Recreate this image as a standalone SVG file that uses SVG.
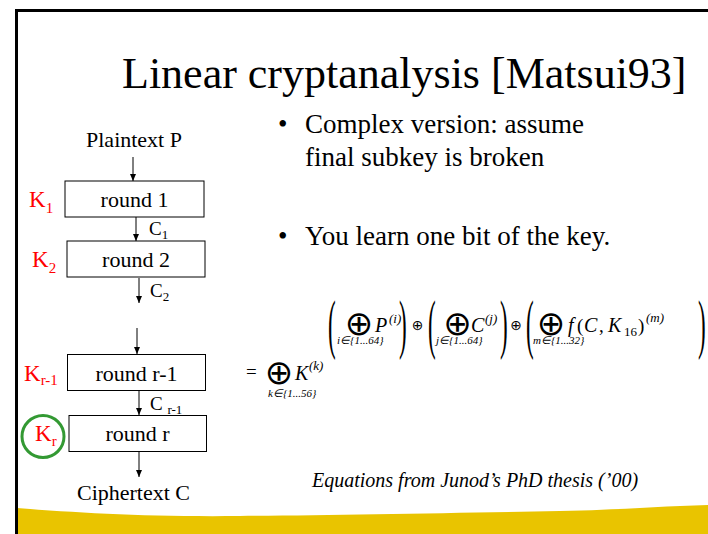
<svg xmlns="http://www.w3.org/2000/svg" width="708" height="534" viewBox="0 0 708 534">
<style>
text{font-family:"Liberation Serif","Times New Roman",serif;fill:#000}
.lbl{font-size:22px}
.k{fill:#ff0000;font-size:23px}
.ks{fill:#ff0000;font-size:15px}
.c{font-size:19px}
.cs{font-size:13px}
.box{fill:#fff;stroke:#000;stroke-width:1}
.conn{stroke:#000;stroke-width:1;fill:none;marker-end:url(#ah)}
.m{font-style:italic;font-size:20px}
.sup{font-style:italic;font-size:13px}
.sub{font-style:italic;font-size:11px}
.op{font-family:"DejaVu Sans",sans-serif;text-anchor:middle}
.par{font-size:66px}
.bul{font-size:27px}
</style>
<defs>
<marker id="ah" viewBox="0 0 7 7" refX="7" refY="3.5" markerWidth="7" markerHeight="7" markerUnits="userSpaceOnUse" orient="auto">
<path d="M0,0.5 L7,3.5 L0,6.5 Z" fill="#000"/>
</marker>
</defs>
<rect width="708" height="534" fill="#fff"/>
<path id="band" d="M17,508 C80,513 150,517 240,516 C330,515 450,513 560,511 C620,510 660,506 708,505 L708,534 L17,534 Z" fill="#e9c400"/>
<path id="frame" d="M16.5,534 V10.5 H708" fill="none" stroke="#000" stroke-width="3"/>
<text id="title" x="122" y="88" font-size="44">Linear cryptanalysis [Matsui93]</text>

<g id="bullets">
<text class="bul" x="278" y="133">•</text>
<text class="bul" x="305" y="133">Complex version: assume</text>
<text class="bul" x="305" y="166">final subkey is broken</text>
<text class="bul" x="278" y="245">•</text>
<text class="bul" x="305" y="245">You learn one bit of the key.</text>
</g>

<g id="connectors">
<line class="conn" x1="133" y1="157" x2="133" y2="181"/>
<line class="conn" x1="136" y1="217" x2="136" y2="241"/>
<line class="conn" x1="139" y1="278" x2="139" y2="303"/>
<line class="conn" x1="137" y1="328" x2="137" y2="354"/>
<line class="conn" x1="139" y1="391" x2="139" y2="415"/>
<line class="conn" x1="139" y1="451" x2="139" y2="477"/>
</g>

<g id="plaintext"><text class="lbl" x="134" y="147" text-anchor="middle">Plaintext P</text></g>
<g id="round1">
<rect class="box" x="65" y="181" width="139" height="36"/>
<text class="lbl" x="134.5" y="207" text-anchor="middle">round 1</text>
</g>
<g id="k1"><text class="k" x="29" y="207">K<tspan class="ks" dy="6">1</tspan></text></g>
<g id="c1"><text class="c" x="149" y="235">C<tspan class="cs" dy="4">1</tspan></text></g>
<g id="round2">
<rect class="box" x="67" y="241" width="138" height="36"/>
<text class="lbl" x="136" y="267" text-anchor="middle">round 2</text>
</g>
<g id="k2"><text class="k" x="32" y="267">K<tspan class="ks" dy="6">2</tspan></text></g>
<g id="c2"><text class="c" x="150" y="297">C<tspan class="cs" dy="4">2</tspan></text></g>
<g id="roundr1">
<rect class="box" x="67.5" y="354.5" width="138" height="36"/>
<text class="lbl" x="136.5" y="381" text-anchor="middle">round r-1</text>
</g>
<g id="kr1"><text class="k" x="24" y="381">K<tspan class="ks" dy="4">r-1</tspan></text></g>
<g id="cr1"><text class="c" x="150" y="410">C <tspan class="cs" dy="4">r-1</tspan></text></g>
<g id="roundr">
<rect class="box" x="69" y="415.5" width="137.5" height="36"/>
<text class="lbl" x="137.5" y="441" text-anchor="middle">round r</text>
</g>
<g id="kr">
<circle cx="43" cy="436.5" r="21" fill="none" stroke="#339933" stroke-width="3"/>
<text class="k" x="35" y="441">K<tspan class="ks" dy="5">r</tspan></text>
</g>
<g id="ciphertext"><text class="lbl" x="133.5" y="500" text-anchor="middle" font-size="23">Ciphertext C</text></g>

<g id="formula">
<text class="par" transform="translate(328,346) scale(0.35,1)">(</text>
<text class="op" x="359" y="335" font-size="34">⊕</text>
<text class="m" x="375" y="332">P</text>
<text class="sup" x="389" y="323">(i)</text>
<text class="sub" x="337" y="344">i∈{1...64}</text>
<text class="par" transform="translate(399,346) scale(0.35,1)">)</text>
<text class="op" x="417.5" y="330" font-size="14">⊕</text>
<text class="par" transform="translate(428,346) scale(0.35,1)">(</text>
<text class="op" x="457.5" y="335" font-size="34">⊕</text>
<text class="m" x="471" y="332">C</text>
<text class="sup" x="485" y="323">(j)</text>
<text class="sub" x="436" y="344">j∈{1...64}</text>
<text class="par" transform="translate(500,346) scale(0.35,1)">)</text>
<text class="op" x="516" y="330" font-size="14">⊕</text>
<text class="par" transform="translate(526,346) scale(0.35,1)">(</text>
<text class="op" x="551" y="335" font-size="34">⊕</text>
<text class="m" x="568" y="332">f</text>
<text class="c" x="577" y="332">(</text>
<text class="m" x="584" y="332">C</text>
<text class="c" x="599" y="332">,</text>
<text class="m" x="608" y="332">K</text>
<text class="cs" x="624" y="336">16</text>
<text class="c" x="638" y="332">)</text>
<text class="sup" x="646" y="322">(m)</text>
<text class="sub" x="533" y="344">m∈{1...32}</text>
<text class="par" transform="translate(698,346) scale(0.35,1)">)</text>
<text class="c" x="246" y="378">=</text>
<text class="op" x="279" y="384" font-size="34">⊕</text>
<text class="m" x="295" y="380">K</text>
<text class="sup" x="309" y="370">(k)</text>
<text class="sub" x="268" y="397">k∈{1...56}</text>
</g>

<g id="caption"><text x="312" y="487" font-size="20" font-style="italic">Equations from Junod’s PhD thesis (’00)</text></g>
</svg>
